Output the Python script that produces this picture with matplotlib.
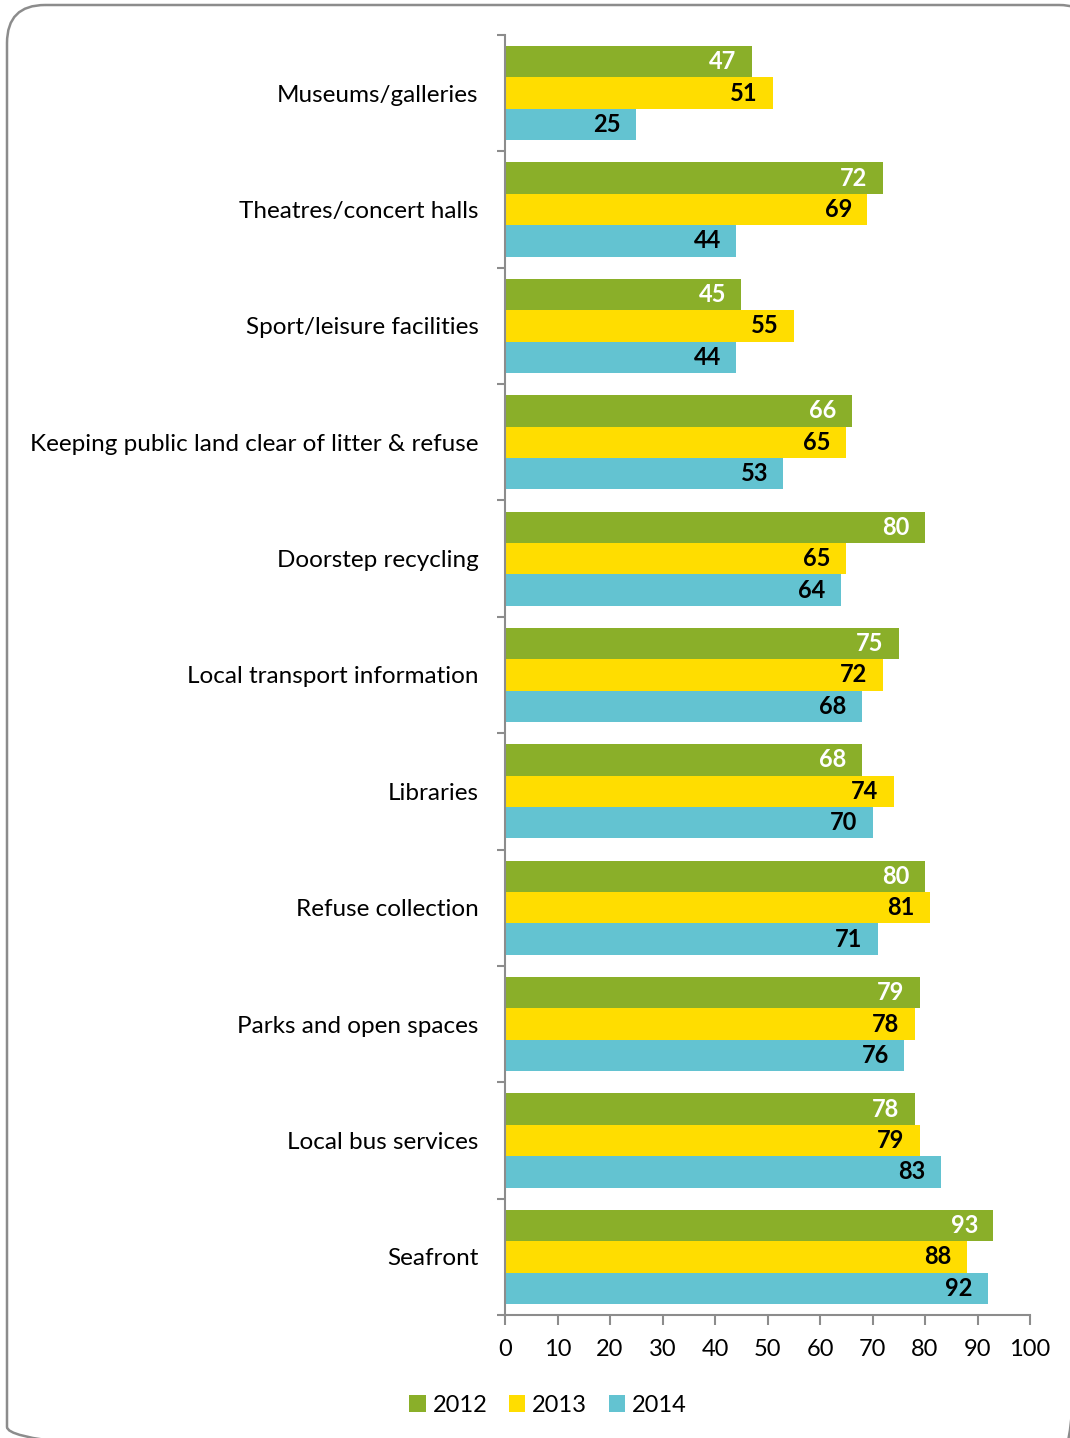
import matplotlib

matplotlib.use("Agg")
import matplotlib.pyplot as plt
import numpy as np
from matplotlib.patches import FancyBboxPatch
from matplotlib.ticker import FixedLocator

plt.rcParams["font.family"] = ["Lato", "DejaVu Sans"]

categories = [
    "Museums/galleries",
    "Theatres/concert halls",
    "Sport/leisure facilities",
    "Keeping public land clear of litter & refuse",
    "Doorstep recycling",
    "Local transport information",
    "Libraries",
    "Refuse collection",
    "Parks and open spaces",
    "Local bus services",
    "Seafront",
]
years = ["2012", "2013", "2014"]
vals_2012 = [47, 72, 45, 66, 80, 75, 68, 80, 79, 78, 93]
vals_2013 = [51, 69, 55, 65, 65, 72, 74, 81, 78, 79, 88]
vals_2014 = [25, 44, 44, 53, 64, 68, 70, 71, 76, 83, 92]

colors = ["#8aaf29", "#ffdd00", "#63c3d1"]
label_colors = ["white", "black", "black"]
GREY = "#8c8c8c"

fig = plt.figure(figsize=(10.7, 14.38), dpi=100)

# background axes in pixel units, used only for the rounded frame
bg = fig.add_axes([0, 0, 1, 1])
bg.set_xlim(0, 1070)
bg.set_ylim(1438, 0)
bg.axis("off")
bg.add_patch(FancyBboxPatch((7, 5), 1090, 1460,
                            boxstyle="round,pad=0,rounding_size=38",
                            facecolor="none", edgecolor=GREY, linewidth=1.8))

ax = fig.add_axes([505 / 1070, 1 - 1315 / 1438, 525 / 1070, 1280 / 1438])

n = len(categories)
y = np.arange(n)
h = 0.27
series = [vals_2012, vals_2013, vals_2014]
for k, (vals, col, lc) in enumerate(zip(series, colors, label_colors)):
    pos = y + (k - 1) * h
    ax.barh(pos, vals, height=h, color=col, label=years[k])
    for p, v in zip(pos, vals):
        ax.annotate(str(v), (v, p), xytext=(-11, 0), textcoords="offset points",
                    ha="right", va="center", fontsize=17, fontweight="bold", color=lc)

ax.set_xlim(0, 100)
ax.set_ylim(n - 0.5, -0.5)
ax.set_xticks(range(0, 101, 10))
ax.set_yticks(y)
ax.set_yticklabels(categories)
ax.yaxis.set_minor_locator(FixedLocator(np.arange(-0.5, n, 1.0)))
ax.tick_params(axis="y", which="major", length=0, pad=19, labelsize=17.5)
ax.tick_params(axis="y", which="minor", length=6, width=1.5, color=GREY)
ax.tick_params(axis="x", length=7, width=1.5, color=GREY, labelsize=17, pad=10)

for side in ["top", "right"]:
    ax.spines[side].set_visible(False)
for side in ["left", "bottom"]:
    ax.spines[side].set_color(GREY)
    ax.spines[side].set_linewidth(1.5)

fig.legend(loc="center", bbox_to_anchor=(548 / 1070, 1 - 1405 / 1438), ncol=3,
           frameon=False, fontsize=17, handlelength=0.7, handleheight=0.7,
           handletextpad=0.3, columnspacing=0.9)

fig.savefig("out.png", dpi=100)
